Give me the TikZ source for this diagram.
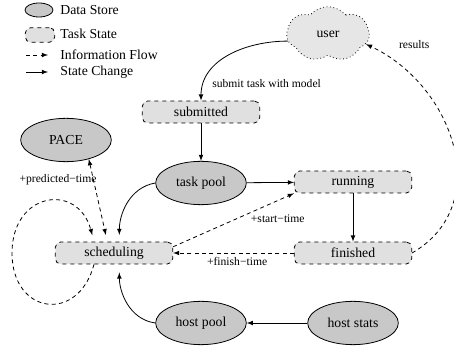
\documentclass[tikz,border=0pt]{standalone}
\usepackage{fontspec}
\setmainfont{Liberation Serif}
\usetikzlibrary{shapes.geometric, shapes.symbols, arrows, calc}
\usepackage{xcolor}
\definecolor{StoreGray}{RGB}{200, 200, 200}
\definecolor{StateGray}{RGB}{224, 224, 224}
\definecolor{UserGray}{RGB}{230, 230, 230}

\begin{document}
\begin{tikzpicture}[x=0.75pt, y=0.75pt, line width=0.6pt, font=\fontsize{10.3}{12}\selectfont,
    store/.style={draw, ellipse, fill=StoreGray, minimum width=68pt, minimum height=32.5pt, inner sep=0pt},
    taskstate/.style={draw, dashed, rounded corners=4pt, fill=StateGray, minimum width=88pt, minimum height=16.5pt, inner sep=0pt},
    infoflow/.style={-latex, dash pattern=on 3pt off 2.5pt},
    statechange/.style={-latex},
    edgelabel/.style={font=\fontsize{8.7}{10}\selectfont, inner sep=1pt}]

\useasboundingbox (0,0) rectangle (454,350);

% key
\begin{scope}
\node[store, minimum width=21pt, minimum height=10.5pt] (keystore) at (39,340) {};
\node[taskstate, minimum width=22pt, minimum height=11pt] (keystate) at (40,315) {};
\coordinate (keyflowa) at (26,295);
\coordinate (keyflowb) at (48,295);
\coordinate (keychangea) at (26,278);
\coordinate (keychangeb) at (48,278);
\foreach \n/\y/\t in {storetext/340/Data Store, statetext/316/Task State, flowtext/295/Information Flow, changetext/278/State Change}
  \node[anchor=west, inner sep=0pt] (\n) at (60,\y) {\t};
\draw[infoflow] (keyflowa) -- (keyflowb);
\draw[statechange] (keychangea) -- (keychangeb);
\end{scope}

% data stores and task states
\node[cloud, draw, dotted, fill=UserGray, cloud puffs=7, cloud puff arc=100, aspect=1.5, minimum width=62pt, minimum height=41pt, inner sep=0pt] (user) at (328,316) {user};

\foreach \n/\x/\y/\t in {pace/66/210/PACE, taskpool/201/167/task pool, hostpool/201/27/host pool, hoststats/353/27/host stats}
  \node[store] (\n) at (\x,\y) {\t};

\foreach \n/\x/\y/\t in {submitted/201/238/submitted, running/353/168/running, finished/353/97/finished, scheduling/114/97/scheduling}
  \node[taskstate] (\n) at (\x,\y) {\t};

% state changes
\draw[statechange] (user.190) to[out=180, in=90] node[edgelabel, pos=0.85, right=5pt] {submit task with model} (submitted.north);
\draw[statechange] (submitted) -- (taskpool);
\draw[statechange] (taskpool) -- (running);
\draw[statechange] (running) -- (finished);
\draw[statechange] (hoststats) -- (hostpool);
\draw[statechange, shorten >=5pt] (taskpool.west) to[out=190, in=90] ([xshift=4pt]scheduling.north);
\draw[statechange, shorten >=6pt] (hostpool.west) to[out=172, in=-90] ([xshift=4pt]scheduling.south);

% information flows
\coordinate (loopw) at (12,97);
\draw[infoflow, shorten >=5pt] ([xshift=-15pt]scheduling.south) to[out=-105, in=-90, looseness=1.9] (loopw) to[out=90, in=105, looseness=1.9] ([xshift=-15pt]scheduling.north);
\draw[infoflow, latex-latex, shorten >=5pt] (pace.-40) -- node[edgelabel, pos=0.25, anchor=east, xshift=3.6pt] {+predicted−time} ([xshift=-5pt]scheduling.north);
\draw[infoflow] (scheduling.6) -- node[edgelabel, pos=0.63, anchor=north west] {+start−time} (running.south west);
\draw[infoflow] (finished.west) -- node[edgelabel, pos=0.47, below, inner sep=3pt] {+finish−time} (scheduling.east);
\draw[infoflow] (finished.east) to[out=30, in=-25, looseness=1.15] node[edgelabel, pos=0.95, anchor=west, xshift=14pt, yshift=4.8pt] {results} (user.-15);

\end{tikzpicture}
\end{document}
